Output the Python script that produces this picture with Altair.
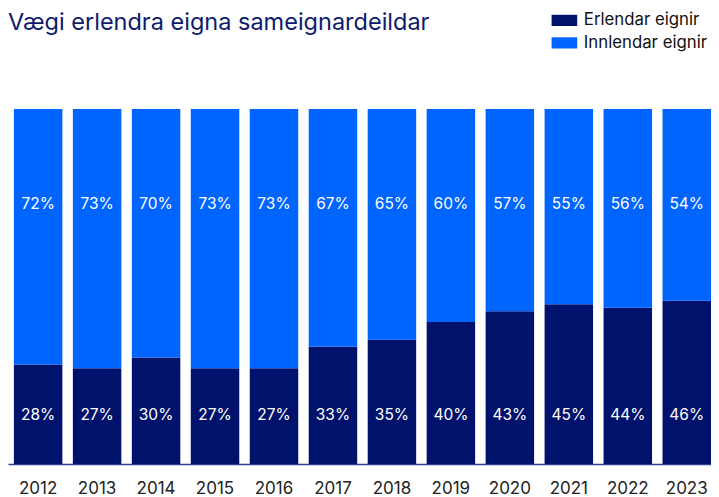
import altair as alt
import pandas as pd

years = ["2012", "2013", "2014", "2015", "2016", "2017", "2018", "2019", "2020", "2021", "2022", "2023"]
erlendar = [28, 27, 30, 27, 27, 33, 35, 40, 43, 45, 44, 46]
innlendar = [72, 73, 70, 73, 73, 67, 65, 60, 57, 55, 56, 54]
series = ["Erlendar eignir", "Innlendar eignir"]
colors = ["#00126B", "#0064FF"]

rows = []
for y, e, i in zip(years, erlendar, innlendar):
    rows.append({"year": y, "series": series[0], "value": e, "ord": 0})
    rows.append({"year": y, "series": series[1], "value": i, "ord": 1})
df = pd.DataFrame(rows)

FONT = "Inter"

x_enc = alt.X(
    "year:N",
    sort=years,
    title=None,
    scale=alt.Scale(paddingInner=0.178, paddingOuter=0.05, align=1),
    axis=alt.Axis(
        labelAngle=0, ticks=False, domainColor="#2E3F94", domainWidth=1.5,
        labelFontSize=17, labelColor="#222222", labelFont=FONT, labelPadding=16,
    ),
)

bars = alt.Chart(df).mark_bar().encode(
    x=x_enc,
    y=alt.Y("value:Q", stack="normalize", axis=None, scale=alt.Scale(domain=[0, 1])),
    color=alt.Color(
        "series:N",
        scale=alt.Scale(domain=series, range=colors),
        legend=alt.Legend(
            title=None, orient="none", legendX=548, legendY=-97,
            symbolType="M-1.6,-0.7H1.6V0.7H-1.6Z", symbolSize=256, symbolStrokeWidth=0,
            labelFontSize=16.8, labelFont=FONT, labelColor="#111111",
            rowPadding=4.5, labelOffset=11,
        ),
    ),
    order=alt.Order("ord:Q"),
)

labels = alt.Chart(df).transform_calculate(
    txt="datum.value + '%'",
    ly="datum.ord == 0 ? 0.139 : 0.731",
).mark_text(color="white", fontSize=15.5, font=FONT, baseline="middle").encode(
    x=alt.X("year:N", sort=years),
    y=alt.Y("ly:Q", scale=alt.Scale(domain=[0, 1])),
    text="txt:N",
)

chart = alt.layer(bars, labels).properties(
    width=703,
    height=355,
    autosize=alt.AutoSizeParams(type="none"),
    padding={"left": 0, "right": 0, "top": 101, "bottom": 33},
    title=alt.TitleParams(
        "Vægi erlendra eigna sameignardeildar",
        anchor="start", frame="group", fontSize=23.5, font=FONT, fontWeight="normal",
        color="#0E1A6E", offset=-41, baseline="alphabetic",
    ),
).configure_view(stroke=None)

chart.save("out.html", embed_options={"renderer": "svg", "actions": False})
